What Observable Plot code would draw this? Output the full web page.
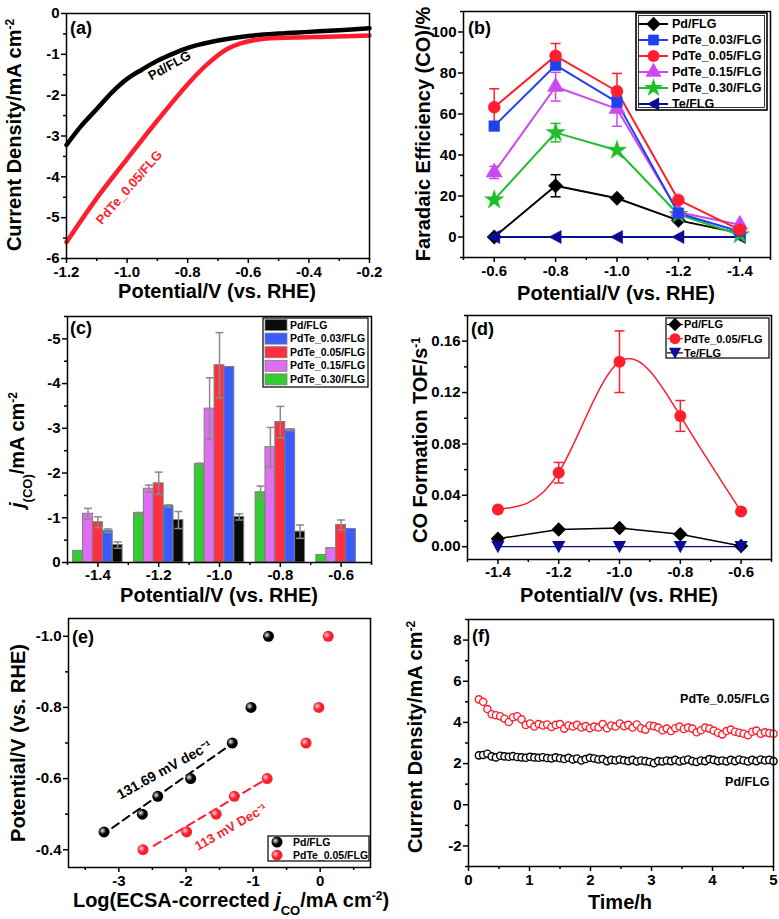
<!DOCTYPE html>
<html>
<head>
<meta charset="utf-8">
<script src="https://cdn.jsdelivr.net/npm/d3@7"></script>
<script src="https://cdn.jsdelivr.net/npm/@observablehq/plot@0.6"></script>
<style>
html,body{margin:0;padding:0;background:#fff;}
#fig{position:relative;width:779px;height:919px;overflow:hidden;background:#fff;}
#fig svg{position:absolute;overflow:visible;}
</style>
</head>
<body>
<div id="fig"></div>
<script>
// ================= DATA =================
// (a) LSV curves
const lsvPdPotential = [-1.2,-1.15,-1.1,-1.05,-1.0,-0.95,-0.9,-0.85,-0.8,-0.75,-0.7,-0.6,-0.5,-0.4,-0.3,-0.2];
const lsvPdCurrent   = [-3.22,-2.74,-2.34,-1.93,-1.60,-1.37,-1.16,-0.99,-0.84,-0.74,-0.66,-0.55,-0.49,-0.45,-0.41,-0.36];
const lsvPdTePotential = [-1.2,-1.1,-1.0,-0.9,-0.8,-0.735,-0.67,-0.625,-0.56,-0.45,-0.34,-0.2];
const lsvPdTeCurrent   = [-5.6,-4.52,-3.56,-2.62,-1.73,-1.24,-0.87,-0.73,-0.63,-0.59,-0.57,-0.54];
const lsvLabels = [{text:"Pd/FLG", p:-0.86, j:-1.28, series:0}, {text:"PdTe_0.05/FLG", p:-0.993, j:-4.26, series:1}];

// (b) Faradaic efficiency
const fePotential = [-0.6,-0.8,-1.0,-1.2,-1.4];
const feSeries = ["Pd/FLG","PdTe_0.03/FLG","PdTe_0.05/FLG","PdTe_0.15/FLG","PdTe_0.30/FLG","Te/FLG"];
const fePd    = [0, 25.0, 18.9, 8.1, 1.9];   const fePdErr   = [0, 5.4, 0, 0, 0];
const fe003   = [54.1, 83.8, 65.8, 11.6, 2.7]; const fe003Err = [1.5, 2, 3, 0, 0];
const fe005   = [63.3, 88.4, 71.1, 18.1, 3.5]; const fe005Err = [9, 6, 8.7, 0, 0];
const fe015   = [31.5, 73.3, 62.5, 12.1, 6.0]; const fe015Err = [3, 7, 8.5, 0, 0];
const fe030   = [18.1, 50.9, 42.3, 11.0, 1.1]; const fe030Err = [0, 4.5, 0, 0, 0];
const feTe    = [0, 0, 0, 0, 0];

// (c) partial current density j(CO)
const jcoPotential = [-1.4,-1.2,-1.0,-0.8,-0.6];
const jcoSeries = ["Pd/FLG","PdTe_0.03/FLG","PdTe_0.05/FLG","PdTe_0.15/FLG","PdTe_0.30/FLG"];
const jcoPd  = [-0.39,-0.95,-1.02,-0.69, 0];    const jcoPdErr  = [0.07,0.19,0.07,0.15,0];
const jco003 = [-0.71,-1.26,-4.37,-2.97,-0.75]; const jco003Err = [0.04,0.03,0,0.02,0];
const jco005 = [-0.90,-1.77,-4.41,-3.14,-0.84]; const jco005Err = [0.12,0.25,0.73,0.35,0.11];
const jco015 = [-1.09,-1.65,-3.44,-2.58,-0.32]; const jco015Err = [0.12,0.08,0.69,0.44,0];
const jco030 = [-0.26,-1.10,-2.20,-1.57,-0.17]; const jco030Err = [0,0.02,0.02,0.14,0];

// (d) TOF
const tofPotential = [-1.4,-1.2,-1.0,-0.8,-0.6];
const tofSeries = ["Pd/FLG","PdTe_0.05/FLG","Te/FLG"];
const tofPd   = [0.0062, 0.0134, 0.0145, 0.0096, 0.0005];
const tofPdTe = [0.029, 0.0576, 0.144, 0.1018, 0.0274]; const tofPdTeErr = [0, 0.008, 0.024, 0.012, 0];
const tofTe   = [0, 0, 0, 0, 0];

// (e) Tafel
const tafelSeries = ["Pd/FLG","PdTe_0.05/FLG"];
const tafelPdLog = [-3.22,-2.65,-2.42,-1.93,-1.31,-1.03,-0.77];
const tafelPdPot = [-0.45,-0.50,-0.55,-0.60,-0.70,-0.80,-1.00];
const tafelPdTeLog = [-2.64,-1.99,-1.55,-1.28,-0.79,-0.21,-0.02,0.12];
const tafelPdTePot = [-0.40,-0.45,-0.50,-0.55,-0.60,-0.70,-0.80,-1.00];
const tafelFitPd   = {log: [-3.10,-1.36], pot: [-0.461,-0.692]};
const tafelFitPdTe = {log: [-2.48,-0.87], pot: [-0.411,-0.591]};
const tafelLabels = [{text:"131.69 mV dec\u207B\u00B9", log:-2.32, pot:-0.624, series:0}, {text:"113 mV Dec\u207B\u00B9", log:-1.33, pot:-0.463, series:1}];

// (f) stability
const stabTime = [0.17,0.24,0.31,0.38,0.45,0.52,0.59,0.66,0.73,0.80,0.87,0.94,1.01,1.08,1.15,1.22,1.29,1.36,1.43,1.50,
  1.57,1.64,1.71,1.78,1.85,1.92,1.99,2.06,2.13,2.20,2.27,2.34,2.41,2.48,2.55,2.62,2.69,2.76,2.83,2.90,
  2.97,3.04,3.11,3.18,3.25,3.32,3.39,3.46,3.53,3.60,3.67,3.74,3.81,3.88,3.95,4.02,4.09,4.16,4.23,4.30,
  4.37,4.44,4.51,4.58,4.65,4.72,4.79,4.86,4.93,5.00];
const stabPdTe = [5.12,5.00,4.65,4.40,4.35,4.30,4.18,4.02,4.25,4.30,4.15,3.88,3.95,3.80,3.92,3.85,3.90,3.78,3.88,3.92,
  3.70,3.85,3.80,3.88,3.75,3.82,3.72,3.80,3.75,3.92,3.72,3.85,3.80,3.95,3.82,3.88,3.75,3.90,3.72,3.65,
  3.85,3.82,3.75,3.62,3.70,3.58,3.72,3.80,3.68,3.75,3.70,3.52,3.62,3.75,3.70,3.60,3.50,3.42,3.58,3.65,
  3.55,3.50,3.45,3.38,3.55,3.60,3.45,3.52,3.48,3.45];
const stabPd = [2.40,2.42,2.48,2.35,2.30,2.38,2.35,2.33,2.36,2.32,2.30,2.28,2.33,2.30,2.28,2.31,2.27,2.25,2.30,2.26,
  2.22,2.28,2.20,2.25,2.15,2.22,2.28,2.25,2.20,2.22,2.12,2.18,2.15,2.20,2.16,2.12,2.18,2.10,2.15,2.12,
  2.08,2.02,2.12,2.10,2.15,2.12,2.18,2.10,2.15,2.20,2.12,2.08,2.15,2.12,2.22,2.18,2.12,2.15,2.10,2.18,
  2.12,2.20,2.15,2.10,2.18,2.12,2.20,2.15,2.18,2.12];
const stabLabels = [{text:"PdTe_0.05/FLG", t:5, j:5.15, series:1}, {text:"Pd/FLG", t:5, j:1.12, series:0}];

// ================= STYLE / HELPERS =================
const FONT = '"Liberation Sans", Arial, Helvetica, sans-serif';
const fig = document.getElementById("fig");
const baseStyle = {fontFamily: FONT, fontWeight: "bold", fontSize: "15px", background: "transparent", overflow: "visible", color: "#000"};
const fmt1 = d => d.toFixed(1);
const fmt0 = d => d.toFixed(0);
const fmt2 = d => d.toFixed(2);
const rows = (xs, ys, es) => xs.map((x, i) => ({x, y: ys[i], e: es ? es[i] : 0}));

const symLeftTri = {draw(ctx, size){ const s = Math.sqrt(size) * 0.62; ctx.moveTo(-s, 0); ctx.lineTo(s*0.85, -s); ctx.lineTo(s*0.85, s); ctx.closePath(); }};
const symDownTri = {draw(ctx, size){ const s = Math.sqrt(size) * 0.62; ctx.moveTo(0, s); ctx.lineTo(-s, -s*0.85); ctx.lineTo(s, -s*0.85); ctx.closePath(); }};
const capSym = w => ({draw(ctx){ ctx.moveTo(-w, 0); ctx.lineTo(w, 0); }});

function axes({xt, xm, xf, yt, ym, yf, xpad = 3}) {
  const c = {label: null, fontSize: 15, fontWeight: "bold", strokeWidth: 1.5};
  return [
    Plot.axisX({...c, ticks: xt, tickSize: 5, tickPadding: xpad, tickFormat: xf}),
    Plot.axisX({...c, ticks: xm, tickSize: 3, tickFormat: () => ""}),
    Plot.axisY({...c, ticks: yt, tickSize: 5, tickPadding: 2, tickFormat: yf}),
    Plot.axisY({...c, ticks: ym, tickSize: 3, tickFormat: () => ""})
  ];
}
function mount(svg, left, top) {
  svg.style.left = left + "px"; svg.style.top = top + "px";
  fig.appendChild(svg);
  return d3.select(svg);
}
function richText(sel, {x, y, rotate = 0, size = 20, anchor = "middle", fill = "#000", parts}) {
  const t = sel.append("text")
    .attr("transform", `translate(${x},${y}) rotate(${rotate})`)
    .attr("text-anchor", anchor).attr("font-size", size).attr("font-weight", "bold")
    .attr("font-family", FONT).attr("fill", fill).attr("dy", "0.35em");
  for (const p of parts) {
    const s = t.append("tspan").text(p.t);
    if (p.sup) s.attr("baseline-shift", "super").attr("font-size", size * 0.6);
    if (p.sub) s.attr("baseline-shift", "sub").attr("font-size", size * 0.65);
    if (p.it) s.attr("font-style", "italic");
  }
  return t;
}
function label(sel, x, y, text, size = 18) {
  return richText(sel, {x, y, size, anchor: "start", parts: [{t: text}]});
}
function legendBox(sel, x, y, w, h, double) {
  sel.append("rect").attr("x", x).attr("y", y).attr("width", w).attr("height", h)
    .attr("fill", "#fff").attr("stroke", "#000").attr("stroke-width", double ? 1.6 : 1.2);
  if (double) sel.append("rect").attr("x", x + 2.5).attr("y", y + 2.5).attr("width", w - 5).attr("height", h - 5)
    .attr("fill", "none").attr("stroke", "#000").attr("stroke-width", 0.8);
}
function legendText(sel, x, y, text, size) {
  sel.append("text").attr("x", x).attr("y", y).attr("dy", "0.35em").attr("font-size", size)
    .attr("text-anchor", "start")
    .attr("font-weight", "bold").attr("font-family", FONT).attr("fill", "#000").text(text);
}

// colours
const C = {black: "#000000", blue: "#2140ee", red: "#ff1e2d", mag: "#cc48ef", green: "#1fbf2a", navy: "#0b0b95"};
const CB = {black: "#0a0a0a", blue: "#3a5cff", red: "#ff2f3f", mag: "#e06ef2", green: "#33cc33"};

// ================= (a) =================
{
  const pd = rows(lsvPdPotential, lsvPdCurrent);
  const pt = rows(lsvPdTePotential, lsvPdTeCurrent);
  const cols = [C.black, C.red];
  const svg = Plot.plot({
    width: 390, height: 300, marginLeft: 66, marginRight: 21, marginTop: 13, marginBottom: 42,
    x: {domain: [-1.2, -0.2]}, y: {domain: [-6, 0]}, style: baseStyle,
    marks: [
      Plot.line(pd, {x: "x", y: "y", stroke: C.black, strokeWidth: 4.5, curve: "catmull-rom"}),
      Plot.line(pt, {x: "x", y: "y", stroke: C.red, strokeWidth: 4.5, curve: "catmull-rom"}),
      Plot.text(lsvLabels.filter(d => d.series === 0), {x: "p", y: "j", text: "text", rotate: -29, fontSize: 13, fontWeight: "bold", fill: cols[0]}),
      Plot.text(lsvLabels.filter(d => d.series === 1), {x: "p", y: "j", text: "text", rotate: -49, fontSize: 13, fontWeight: "bold", fill: cols[1]}),
      Plot.frame({stroke: "#000", strokeWidth: 1.5}),
      ...axes({xt: [-1.2,-1.0,-0.8,-0.6,-0.4,-0.2], xm: [-1.1,-0.9,-0.7,-0.5,-0.3], xf: fmt1,
               yt: [-6,-5,-4,-3,-2,-1,0], ym: [-5.5,-4.5,-3.5,-2.5,-1.5,-0.5], yf: fmt0})
    ]
  });
  const s = mount(svg, 0, 0);
  label(s, 70, 28, "(a)");
  richText(s, {x: 217, y: 291, parts: [{t: "Potential/V (vs. RHE)"}]});
  richText(s, {x: 14, y: 135, rotate: -90, parts: [{t: "Current Density/mA cm"}, {t: "-2", sup: true}]});
}

// ================= (b) =================
{
  const series = [
    {name: feSeries[0], v: fePd, e: fePdErr, col: C.black, sym: "diamond2", r: 6.5},
    {name: feSeries[5], v: feTe, e: null, col: C.navy, sym: symLeftTri, r: 6},
    {name: feSeries[4], v: fe030, e: fe030Err, col: C.green, sym: "star", r: 6},
    {name: feSeries[3], v: fe015, e: fe015Err, col: C.mag, sym: "triangle", r: 6},
    {name: feSeries[1], v: fe003, e: fe003Err, col: C.blue, sym: "square", r: 6},
    {name: feSeries[2], v: fe005, e: fe005Err, col: C.red, sym: "circle", r: 6}
  ];
  const marks = [];
  for (const s of series) marks.push(Plot.line(rows(fePotential, s.v), {x: "x", y: "y", stroke: s.col, strokeWidth: 2}));
  for (const s of series) {
    if (s.e) {
      const er = rows(fePotential, s.v, s.e).filter(d => d.e > 0);
      marks.push(Plot.ruleX(er, {x: "x", y1: d => d.y - d.e, y2: d => d.y + d.e, stroke: s.col, strokeWidth: 1.5}));
      marks.push(Plot.dot(er, {x: "x", y: d => d.y + d.e, symbol: capSym(5), fill: "none", stroke: s.col, strokeWidth: 1.5}));
      marks.push(Plot.dot(er, {x: "x", y: d => d.y - d.e, symbol: capSym(5), fill: "none", stroke: s.col, strokeWidth: 1.5}));
    }
  }
  for (const s of series) marks.push(Plot.dot(rows(fePotential, s.v), {x: "x", y: "y", symbol: s.sym, r: s.r, fill: s.col, stroke: s.col, strokeWidth: 0.5}));
  const svg = Plot.plot({
    width: 389, height: 300, marginLeft: 73, marginRight: 9, marginTop: 11, marginBottom: 43,
    x: {domain: [-0.5, -1.5]}, y: {domain: [-10, 110]}, style: baseStyle,
    marks: [...marks, Plot.frame({stroke: "#000", strokeWidth: 1.5}),
      ...axes({xt: [-0.6,-0.8,-1.0,-1.2,-1.4], xm: [-0.5,-0.7,-0.9,-1.1,-1.3,-1.5], xf: fmt1,
               yt: [0,20,40,60,80,100], ym: [-10,10,30,50,70,90,110], yf: fmt0})]
  });
  const s = mount(svg, 390, 0);
  label(s, 78, 28, "(b)");
  richText(s, {x: 226, y: 293, parts: [{t: "Potential/V (vs. RHE)"}]});
  richText(s, {x: 33, y: 134, rotate: -90, parts: [{t: "Faradaic Efficiency (CO)/%"}]});
  // legend
  legendBox(s, 246, 13, 131, 97, true);
  const legOrder = [series[0], series[4], series[5], series[3], series[2], series[1]];
  legOrder.forEach((o, i) => {
    const y = 24 + i * 16;
    s.append("line").attr("x1", 249).attr("x2", 278).attr("y1", y).attr("y2", y).attr("stroke", o.col).attr("stroke-width", 2);
    const sym = typeof o.sym === "string" ? {diamond2: d3.symbolDiamond2, star: d3.symbolStar, triangle: d3.symbolTriangle, square: d3.symbolSquare, circle: d3.symbolCircle}[o.sym] : o.sym;
    s.append("path").attr("d", d3.symbol(sym, Math.PI * o.r * o.r)()).attr("transform", `translate(263.5,${y})`).attr("fill", o.col);
    legendText(s, 282, y, o.name, 12.5);
  });
}

// ================= (c) =================
{
  const BW = 0.0325;
  const series = [
    {name: jcoSeries[4], v: jco030, e: jco030Err, col: CB.green},
    {name: jcoSeries[3], v: jco015, e: jco015Err, col: CB.mag},
    {name: jcoSeries[2], v: jco005, e: jco005Err, col: CB.red},
    {name: jcoSeries[1], v: jco003, e: jco003Err, col: CB.blue},
    {name: jcoSeries[0], v: jcoPd, e: jcoPdErr, col: CB.black}
  ];
  const marks = [];
  series.forEach((s, i) => {
    const r = rows(jcoPotential, s.v, s.e).filter(d => d.y !== 0);
    marks.push(Plot.rectY(r, {x1: d => d.x + (i - 2.5) * BW, x2: d => d.x + (i - 1.5) * BW, y1: 0, y2: "y", fill: s.col, stroke: "#7d7d7d", strokeWidth: 1}));
  });
  series.forEach((s, i) => {
    const er = rows(jcoPotential, s.v, s.e).filter(d => d.e > 0);
    const xc = d => d.x + (i - 2) * BW;
    marks.push(Plot.ruleX(er, {x: xc, y1: d => d.y + d.e, y2: d => d.y - d.e, stroke: "#8a8a8a", strokeWidth: 1.5}));
    marks.push(Plot.dot(er, {x: xc, y: d => d.y - d.e, symbol: capSym(4), fill: "none", stroke: "#8a8a8a", strokeWidth: 1.5}));
    marks.push(Plot.dot(er, {x: xc, y: d => d.y + d.e, symbol: capSym(4), fill: "none", stroke: "#8a8a8a", strokeWidth: 1.5}));
  });
  const svg = Plot.plot({
    width: 390, height: 300, marginLeft: 67, marginRight: 19, marginTop: 16, marginBottom: 38,
    x: {domain: [-1.5, -0.5]}, y: {domain: [0, -5.5]}, style: baseStyle,
    marks: [...marks, Plot.frame({stroke: "#000", strokeWidth: 1.5}),
      ...axes({xt: jcoPotential, xm: [-1.5,-1.3,-1.1,-0.9,-0.7,-0.5], xf: fmt1, xpad: 2,
               yt: [0,-1,-2,-3,-4,-5], ym: [-0.5,-1.5,-2.5,-3.5,-4.5,-5.5], yf: fmt0})]
  });
  const s = mount(svg, 0, 300);
  label(s, 70, 28, "(c)");
  richText(s, {x: 219, y: 295, parts: [{t: "Potential/V (vs. RHE)"}]});
  richText(s, {x: 17, y: 150, rotate: -90, parts: [{t: "j", it: true}, {t: "(CO)", sub: true}, {t: "/mA cm"}, {t: "-2", sup: true}]});
  legendBox(s, 263, 18, 105, 69, false);
  const legOrder = [series[4], series[3], series[2], series[1], series[0]];
  legOrder.forEach((o, i) => {
    const y = 25 + i * 13.6;
    s.append("rect").attr("x", 265).attr("y", y - 5.5).attr("width", 22).attr("height", 11).attr("fill", o.col).attr("stroke", "#7d7d7d").attr("stroke-width", 0.8);
    legendText(s, 290, y, o.name, 10.5);
  });
}

// ================= (d) =================
{
  const marks = [
    Plot.line(rows(tofPotential, tofTe), {x: "x", y: "y", stroke: C.navy, strokeWidth: 1.2}),
    Plot.line(rows(tofPotential, tofPd), {x: "x", y: "y", stroke: C.black, strokeWidth: 1.5}),
    Plot.line(rows(tofPotential, tofPdTe), {x: "x", y: "y", stroke: C.red, strokeWidth: 1.5, curve: "natural"})
  ];
  const er = rows(tofPotential, tofPdTe, tofPdTeErr).filter(d => d.e > 0);
  marks.push(Plot.ruleX(er, {x: "x", y1: d => d.y - d.e, y2: d => d.y + d.e, stroke: C.red, strokeWidth: 1.5}));
  marks.push(Plot.dot(er, {x: "x", y: d => d.y + d.e, symbol: capSym(5), fill: "none", stroke: C.red, strokeWidth: 1.5}));
  marks.push(Plot.dot(er, {x: "x", y: d => d.y - d.e, symbol: capSym(5), fill: "none", stroke: C.red, strokeWidth: 1.5}));
  marks.push(Plot.dot(rows(tofPotential, tofPdTe), {x: "x", y: "y", symbol: "circle", r: 6, fill: C.red}));
  marks.push(Plot.dot(rows(tofPotential, tofPd), {x: "x", y: "y", symbol: "diamond2", r: 6.5, fill: C.black}));
  marks.push(Plot.dot(rows(tofPotential, tofTe), {x: "x", y: "y", symbol: symDownTri, r: 6, fill: C.navy, stroke: "none"}));
  const svg = Plot.plot({
    width: 389, height: 300, marginLeft: 77, marginRight: 8, marginTop: 15, marginBottom: 41,
    x: {domain: [-1.5, -0.5]}, y: {domain: [-0.01, 0.18]}, style: baseStyle,
    marks: [...marks, Plot.frame({stroke: "#000", strokeWidth: 1.5}),
      ...axes({xt: tofPotential, xm: [-1.5,-1.3,-1.1,-0.9,-0.7,-0.5], xf: fmt1, xpad: 2,
               yt: [0,0.04,0.08,0.12,0.16], ym: [0.02,0.06,0.10,0.14,0.18], yf: fmt2})]
  });
  const s = mount(svg, 390, 300);
  label(s, 81, 29, "(d)");
  richText(s, {x: 229, y: 295, parts: [{t: "Potential/V (vs. RHE)"}]});
  richText(s, {x: 30, y: 140, rotate: -90, parts: [{t: "CO Formation TOF/s"}, {t: "-1", sup: true}]});
  legendBox(s, 276, 18, 103, 40, false);
  const leg = [{name: tofSeries[0], col: C.black, sym: d3.symbolDiamond2, r: 6}, {name: tofSeries[1], col: C.red, sym: d3.symbolCircle, r: 5.5}, {name: tofSeries[2], col: C.navy, sym: symDownTri, r: 5.5}];
  leg.forEach((o, i) => {
    const y = 24.5 + i * 14.2;
    s.append("line").attr("x1", 277).attr("x2", 293).attr("y1", y).attr("y2", y).attr("stroke", i === 2 ? "#000" : o.col).attr("stroke-width", 1.2);
    s.append("path").attr("d", d3.symbol(o.sym, Math.PI * o.r * o.r)()).attr("transform", `translate(285,${y})`).attr("fill", o.col);
    legendText(s, 294, y, o.name, 11);
  });
}

// ================= (e) =================
{
  const pd = rows(tafelPdLog, tafelPdPot);
  const pt = rows(tafelPdTeLog, tafelPdTePot);
  const svg = Plot.plot({
    width: 390, height: 319, marginLeft: 68, marginRight: 20, marginTop: 18, marginBottom: 52,
    x: {domain: [-3.75, 0.75]}, y: {domain: [-0.35, -1.05]}, style: baseStyle,
    marks: [
      Plot.line(rows(tafelFitPd.log, tafelFitPd.pot), {x: "x", y: "y", stroke: C.black, strokeWidth: 2, strokeDasharray: "8,5"}),
      Plot.line(rows(tafelFitPdTe.log, tafelFitPdTe.pot), {x: "x", y: "y", stroke: C.red, strokeWidth: 2, strokeDasharray: "8,5"}),
      Plot.dot(pd, {x: "x", y: "y", r: 5.5, fill: "url(#sphBlack)", stroke: "none"}),
      Plot.dot(pt, {x: "x", y: "y", r: 5.5, fill: "url(#sphRed)", stroke: "none"}),
      Plot.text(tafelLabels.filter(d => d.series === 0), {x: "log", y: "pot", text: "text", rotate: -29, fontSize: 14, fontWeight: "bold", fill: C.black}),
      Plot.text(tafelLabels.filter(d => d.series === 1), {x: "log", y: "pot", text: "text", rotate: -30, fontSize: 13, fontWeight: "bold", fill: C.red}),
      Plot.frame({stroke: "#000", strokeWidth: 1.5}),
      ...axes({xt: [-3,-2,-1,0], xm: [-3.5,-2.5,-1.5,-0.5,0.5], xf: fmt0,
               yt: [-1.0,-0.8,-0.6,-0.4], ym: [-0.9,-0.7,-0.5], yf: fmt1})
    ]
  });
  const s = mount(svg, 0, 600);
  const defs = s.insert("defs", ":first-child");
  for (const [id, light, base] of [["sphBlack", "#eeeeee", "#000000"], ["sphRed", "#ffd6d6", "#ff1e2d"]]) {
    const g = defs.append("radialGradient").attr("id", id).attr("cx", "38%").attr("cy", "40%").attr("r", "60%").attr("fx", "35%").attr("fy", "38%");
    g.append("stop").attr("offset", "0%").attr("stop-color", light);
    g.append("stop").attr("offset", "55%").attr("stop-color", base);
    g.append("stop").attr("offset", "100%").attr("stop-color", base);
  }
  label(s, 72, 37, "(e)");
  richText(s, {x: 231, y: 300, parts: [{t: "Log(ECSA-corrected "}, {t: "j", it: true}, {t: "CO", sub: true}, {t: "/mA cm"}, {t: "-2", sup: true}, {t: ")"}]});
  richText(s, {x: 18, y: 143, rotate: -90, parts: [{t: "Potential/V (vs. RHE)"}]});
  legendBox(s, 268, 236, 101, 25, false);
  tafelSeries.forEach((name, i) => {
    const y = 242 + i * 13.2;
    s.append("circle").attr("cx", 277).attr("cy", y).attr("r", 5.5).attr("fill", i ? "url(#sphRed)" : "url(#sphBlack)");
    legendText(s, 293, y, name, 10.5);
  });
}

// ================= (f) =================
{
  const svg = Plot.plot({
    width: 389, height: 319, marginLeft: 78, marginRight: 6, marginTop: 19, marginBottom: 53,
    x: {domain: [0, 5]}, y: {domain: [-3, 9]}, style: baseStyle,
    marks: [
      Plot.dot(rows(stabTime, stabPdTe), {x: "x", y: "y", r: 3.6, fill: "#fff", stroke: C.red, strokeWidth: 1.4}),
      Plot.dot(rows(stabTime, stabPd), {x: "x", y: "y", r: 3.6, fill: "#fff", stroke: C.black, strokeWidth: 1.4}),
      Plot.text(stabLabels.filter(d => d.series === 1), {x: "t", y: "j", text: "text", textAnchor: "end", dx: -4, fontSize: 12.5, fontWeight: "bold", fill: "#000"}),
      Plot.text(stabLabels.filter(d => d.series === 0), {x: "t", y: "j", text: "text", textAnchor: "end", dx: -4, fontSize: 12.5, fontWeight: "bold", fill: "#000"}),
      Plot.frame({stroke: "#000", strokeWidth: 1.5}),
      ...axes({xt: [0,1,2,3,4,5], xm: [0.5,1.5,2.5,3.5,4.5], xf: fmt0,
               yt: [-2,0,2,4,6,8], ym: [-3,-1,1,3,5,7,9], yf: fmt0})
    ]
  });
  const s = mount(svg, 390, 600);
  label(s, 82, 36, "(f)");
  richText(s, {x: 230, y: 302, parts: [{t: "Time/h"}]});
  richText(s, {x: 25, y: 137, rotate: -90, parts: [{t: "Current Density/mA cm"}, {t: "-2", sup: true}]});
}
</script>
</body>
</html>
